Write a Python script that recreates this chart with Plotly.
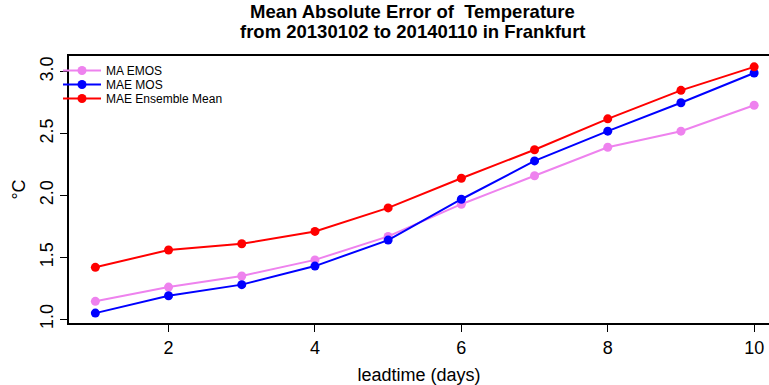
import plotly.graph_objects as go

leadtime = [1, 2, 3, 4, 5, 6, 7, 8, 9, 10]
ma_emos = [1.145, 1.26, 1.35, 1.48, 1.67, 1.93, 2.16, 2.39, 2.52, 2.73]
mae_mos = [1.05, 1.19, 1.28, 1.43, 1.64, 1.97, 2.28, 2.52, 2.75, 2.99]
mae_ens = [1.42, 1.56, 1.61, 1.71, 1.90, 2.14, 2.37, 2.62, 2.85, 3.04]

series = [
    ("MA EMOS", ma_emos, "violet", "legend"),
    ("MAE MOS", mae_mos, "blue", "legend2"),
    ("MAE Ensemble Mean", mae_ens, "red", "legend3"),
]
title_lines = ["Mean Absolute Error of  Temperature",
               "from 20130102 to 20140110 in Frankfurt"]

FONT = "Liberation Sans, Arial, Helvetica, sans-serif"
W, H = 769, 385
L, T, B, R = 69, 56, 62, 0
PW, PH = W - L - R, H - T - B

def px_x(px):
    return (px - L) / PW

def px_y(py):
    return (H - B - py) / PH

fig = go.Figure()
for name, vals, col, lg in series:
    fig.add_trace(go.Scatter(
        x=leadtime, y=vals, name=name, mode="lines+markers",
        line=dict(color=col, width=2),
        marker=dict(color=col, size=9),
        legend=lg,
    ))

leg_common = dict(xanchor="left", yanchor="top", bgcolor="rgba(0,0,0,0)",
                  borderwidth=0, font=dict(size=12, family=FONT, color="black"),
                  itemwidth=38)
legend_tops = [56, 70, 84]
fig.update_layout(
    legend=dict(x=px_x(58), y=px_y(legend_tops[0]), **leg_common),
    legend2=dict(x=px_x(58), y=px_y(legend_tops[1]), **leg_common),
    legend3=dict(x=px_x(58), y=px_y(legend_tops[2]), **leg_common),
)

fig.update_layout(
    width=W, height=H,
    margin=dict(l=L, r=R, t=T, b=B, autoexpand=False),
    plot_bgcolor="white", paper_bgcolor="white",
    font=dict(family=FONT, color="black", size=18),
    showlegend=True,
    xaxis=dict(range=[0.64, 0.64 + PW / 73.2], tickvals=[2, 4, 6, 8, 10],
               showgrid=False, zeroline=False, showline=True, mirror=True,
               linecolor="black", linewidth=2, ticks="outside", ticklen=7,
               tickwidth=1, tickcolor="black", tickfont=dict(size=18),
               automargin=False,
               title=dict(text="leadtime (days)", font=dict(size=18), standoff=12)),
    yaxis=dict(range=[0.97, 0.97 + PH / 123.75], tickvals=[1.0, 1.5, 2.0, 2.5, 3.0],
               ticktext=["1.0", "1.5", "2.0", "2.5", "3.0"],
               showgrid=False, zeroline=False, showline=True, mirror=False,
               linecolor="black", linewidth=2, ticks="outside", ticklen=7,
               tickwidth=1, tickcolor="black", tickangle=-90, tickfont=dict(size=18),
               automargin=False,
               title=dict(text="°C", font=dict(size=18), standoff=6)),
    annotations=[
        dict(text="<b>%s</b>" % title_lines[0], x=px_x(412), y=px_y(11.5),
             xref="paper", yref="paper", xanchor="center", yanchor="middle",
             showarrow=False, font=dict(size=18.5, family=FONT)),
        dict(text="<b>%s</b>" % title_lines[1], x=px_x(413), y=px_y(31.5),
             xref="paper", yref="paper", xanchor="center", yanchor="middle",
             showarrow=False, font=dict(size=18.5, family=FONT)),
    ],
)

fig.write_html("out.html",
               config={"displayModeBar": False},
               post_script="document.body.style.margin='0';"
                           "document.body.style.overflow='hidden';")
